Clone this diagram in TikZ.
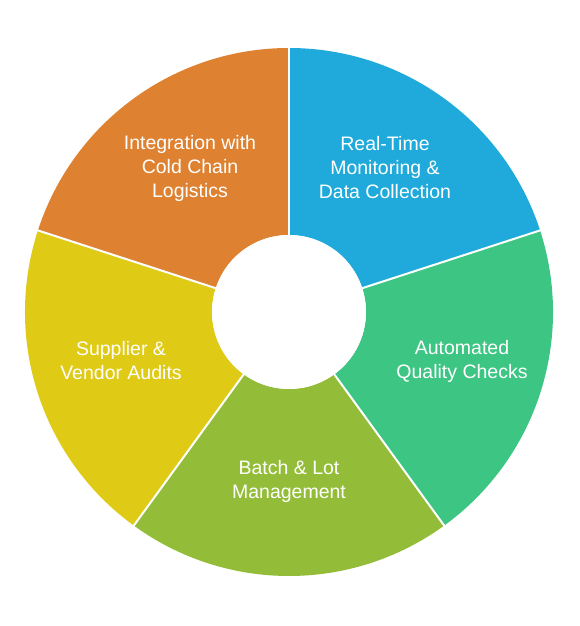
\documentclass[tikz,border=0pt]{standalone}
\usepackage{fontspec}
\setmainfont{Liberation Sans}
\usetikzlibrary{calc}
\definecolor{cblue}{HTML}{1FAADB}
\definecolor{cgreen}{HTML}{3DC584}
\definecolor{colive}{HTML}{93BD38}
\definecolor{cyellow}{HTML}{DFCA16}
\definecolor{corange}{HTML}{DE8231}
\begin{document}
\begin{tikzpicture}[x=1pt,y=1pt,
  lbl/.style={text=white,align=center,font=\fontsize{19.5}{24}\selectfont},
  sep/.style={draw=white,line width=2pt}]
\useasboundingbox (0,0) rectangle (579,626);
\coordinate (c) at (289,314);
\def\Ro{264}
\def\Ri{77}
\foreach \a/\col in {90/cblue,18/cgreen,-54/colive,-126/cyellow,162/corange}{
  \fill[\col] ($(c)+(\a:\Ro)$) arc[start angle=\a,end angle=\a-72,radius=\Ro]
     -- ($(c)+(\a-72:\Ri)$) arc[start angle=\a-72,end angle=\a,radius=\Ri] -- cycle;
}
\fill[white] (c) circle[radius=\Ri];
\foreach \a in {90,18,-54,-126,162}{
  \draw[sep] ($(c)+(\a:\Ri-1)$) -- ($(c)+(\a:\Ro+1)$);
}
\node[lbl] (t1) at (385,458) {Real-Time\\Monitoring \&\\Data Collection};
\node[lbl] (t2) at (462,265) {Automated\\Quality Checks};
\node[lbl] (t3) at (289,145) {Batch \& Lot\\Management};
\node[lbl] (t4) at (121,265) {Supplier \&\\Vendor Audits};
\node[lbl] (t5) at (190,458) {Integration with\\Cold Chain\\Logistics};
\end{tikzpicture}
\end{document}
